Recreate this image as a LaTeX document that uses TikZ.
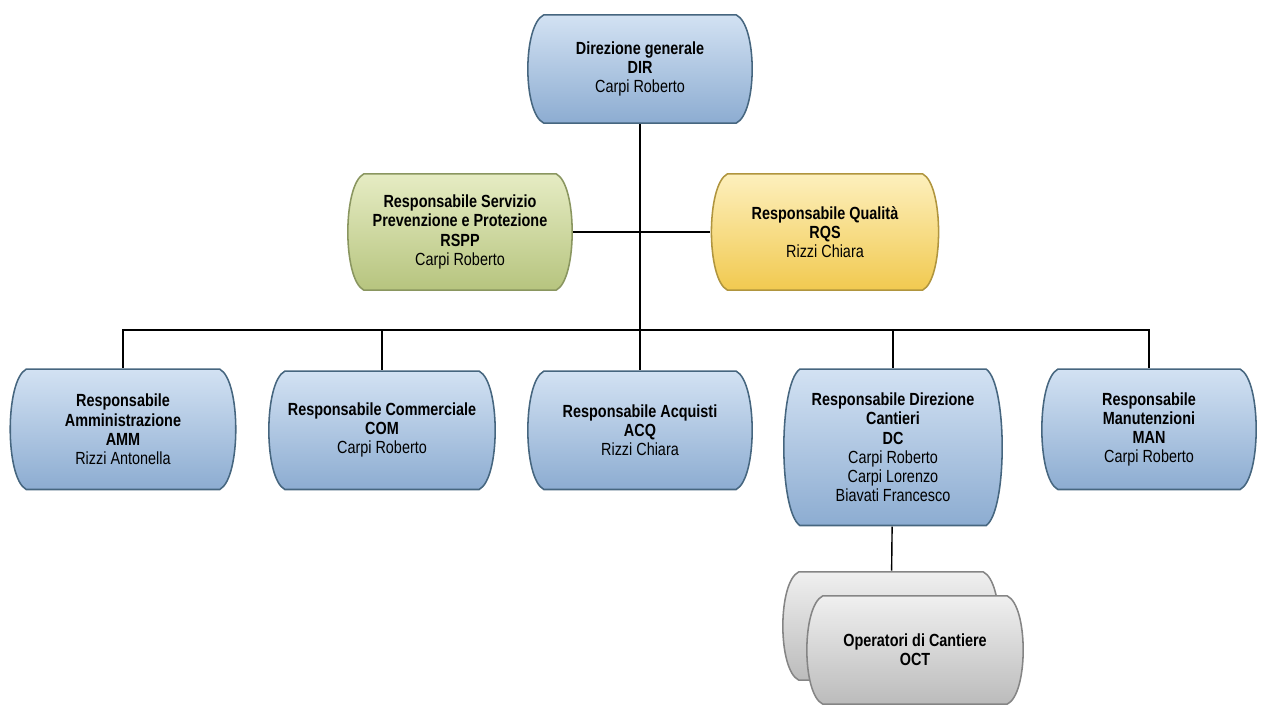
\documentclass[tikz,border=0pt]{standalone}
\usepackage{fontspec}
\setmainfont{Liberation Sans}[FakeStretch=0.82]
\usepackage{tikz}
\usetikzlibrary{calc,positioning}
\definecolor{bluetop}{HTML}{D3E2F3}
\definecolor{bluebot}{HTML}{8CACD1}
\definecolor{blueedge}{HTML}{46667F}
\definecolor{greentop}{HTML}{E6ECC4}
\definecolor{greenbot}{HTML}{B6C47E}
\definecolor{greenedge}{HTML}{8A9660}
\definecolor{yellowtop}{HTML}{FDF0BE}
\definecolor{yellowbot}{HTML}{F1C94F}
\definecolor{yellowedge}{HTML}{B0953E}
\definecolor{greytop}{HTML}{F0F0F0}
\definecolor{greybot}{HTML}{BBBBBB}
\definecolor{greyedge}{HTML}{858585}
\tikzset{
  orgbox/.style n args={3}{rectangle, draw=none, align=center, inner sep=2pt,
    font=\fontsize{12.5}{13.6}\selectfont,
    path picture={
      \path [top color=#1, bottom color=#2, draw=#3, line width=1.1pt]
        let \p1=(path picture bounding box.north west),
            \p2=(path picture bounding box.south east) in
        (\x1+0.4cm+0.6pt,\y1-0.6pt) -- (\x2-0.4cm-0.6pt,\y1-0.6pt)
        .. controls ({\x2+0.133cm-0.6pt},{0.9*\y1+0.1*\y2}) and ({\x2+0.133cm-0.6pt},{0.1*\y1+0.9*\y2})
        .. (\x2-0.4cm-0.6pt,\y2+0.6pt) -- (\x1+0.4cm+0.6pt,\y2+0.6pt)
        .. controls ({\x1-0.133cm+0.6pt},{0.1*\y1+0.9*\y2}) and ({\x1-0.133cm+0.6pt},{0.9*\y1+0.1*\y2})
        .. cycle;
    }}
}

\begin{document}
\begin{tikzpicture}[x=0.025cm,y=-0.025cm]
\useasboundingbox (0,0) rectangle (1261,711);

% Define block styles
\tikzstyle{unit} = [orgbox={bluetop}{bluebot}{blueedge},
    minimum width=5.65cm, minimum height=3cm]
\tikzstyle{safety} = [orgbox={greentop}{greenbot}{greenedge},
    minimum width=5.65cm, minimum height=2.95cm]
\tikzstyle{quality} = [orgbox={yellowtop}{yellowbot}{yellowedge},
    minimum width=5.72cm, minimum height=2.95cm]
\tikzstyle{staff} = [orgbox={greytop}{greybot}{greyedge},
    minimum width=5.45cm, minimum height=2.75cm]
\tikzstyle{line} = [draw, line width=1pt]

    % Place nodes
    \node [unit, minimum height=2.75cm] (dir) at (640,69)
        {\textbf{Direzione generale}\\\textbf{DIR}\\Carpi Roberto};
    \node [safety] (rspp) at (460,232)
        {\textbf{Responsabile Servizio}\\\textbf{Prevenzione e Protezione}\\\textbf{RSPP}\\Carpi Roberto};
    \node [quality] (rqs) at (825,232)
        {\textbf{Responsabile Qualità}\\\textbf{RQS}\\Rizzi Chiara};

    \node [unit, anchor=north, minimum width=5.68cm, minimum height=3.05cm] (amm) at (123,368)
        {\textbf{Responsabile}\\\textbf{Amministrazione}\\\textbf{AMM}\\Rizzi Antonella};
    \node [unit, anchor=north, minimum width=5.7cm] (com) at (382,370)
        {\textbf{Responsabile Commerciale}\\\textbf{COM}\\Carpi Roberto};
    \node [unit, anchor=north] (acq) at (640,370)
        {\textbf{Responsabile Acquisti}\\\textbf{ACQ}\\Rizzi Chiara};
    \node [unit, anchor=north, minimum width=5.5cm, minimum height=3.95cm] (dc) at (893,368)
        {\textbf{Responsabile Direzione}\\\textbf{Cantieri}\\\textbf{DC}\\Carpi Roberto\\Carpi Lorenzo\\Biavati Francesco};
    \node [unit, anchor=north, minimum width=5.4cm, minimum height=3.05cm] (man) at (1149,368)
        {\textbf{Responsabile}\\\textbf{Manutenzioni}\\\textbf{MAN}\\Carpi Roberto};

    \node [staff] (octback) at (891,626) {};
    \node [staff] (oct) at (915,650)
        {\textbf{Operatori di Cantiere}\\\textbf{OCT}};

    \coordinate (hub) at (640,330);

    \path [line] (dir) -- (acq);
    \path [line] (rspp) -- (rqs);
    \path [line] (hub) -| (amm);
    \path [line] (hub) -| (com);
    \path [line] (hub) -| (dc);
    \path [line] (hub) -| (man);
    \path [line] (dc) -- (octback);
\end{tikzpicture}
\end{document}
